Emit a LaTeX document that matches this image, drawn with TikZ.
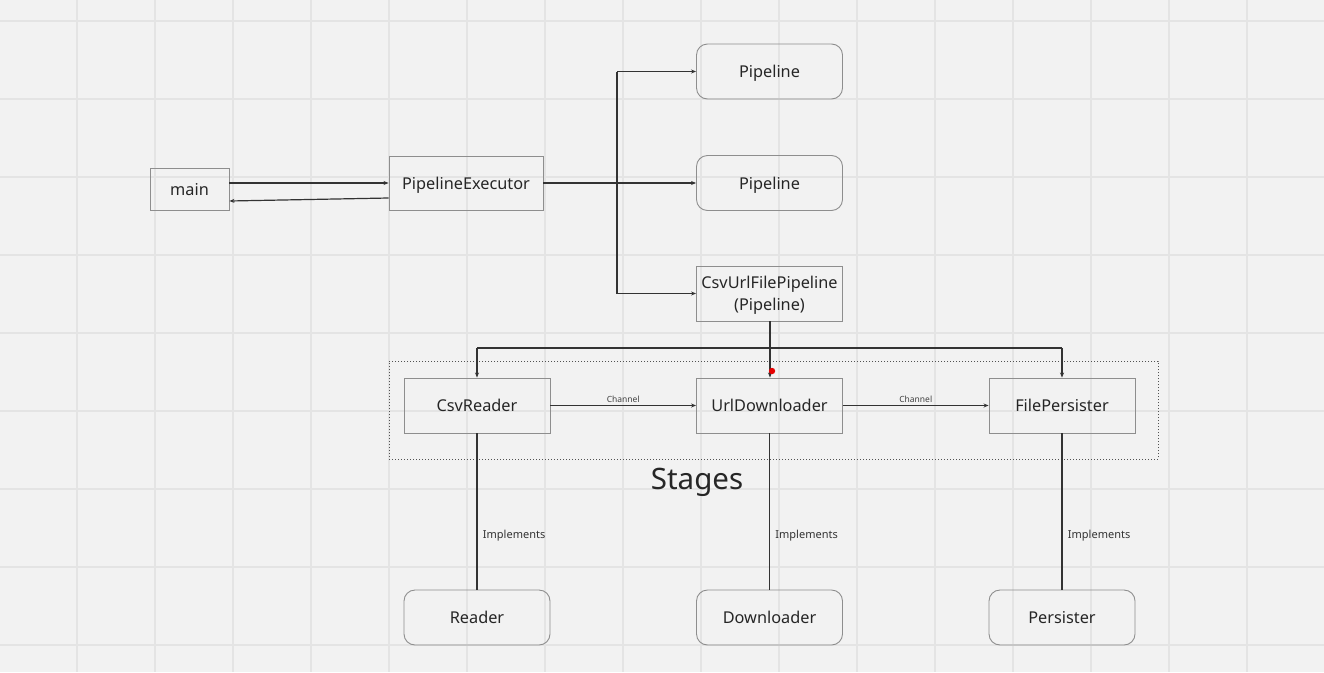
\documentclass[tikz,border=0pt]{standalone}
\usepackage{fontspec}
\setmainfont{Noto Sans}
\usetikzlibrary{arrows.meta,positioning}
\definecolor{bg}{HTML}{F2F2F2}
\definecolor{gridc}{HTML}{E4E4E4}
\definecolor{boxc}{HTML}{8E8E8E}
\definecolor{linec}{HTML}{333333}
\tikzset{
  box/.style={draw=boxc, line width=0.9pt, minimum width=146pt, minimum height=55pt, inner sep=0pt, font=\fontsize{16.3}{22.5}\selectfont, text=black!85, align=center, text depth=0pt},
  rbox/.style={box, rounded corners=11pt},
  conn/.style={draw=linec, line width=1.2pt, -{Stealth[length=5pt,width=4pt]}},
  plain/.style={draw=linec, line width=1.2pt},
  lbl/.style={font=\fontsize{11}{13}\selectfont, text=black!80},
  slbl/.style={font=\fontsize{8.5}{10}\selectfont, text=black!75}
}
\begin{document}
\begin{tikzpicture}[x=1pt,y=-1pt]
\useasboundingbox (0,0) rectangle (1324,672);
\fill[bg] (0,0) rectangle (1324,672);
\foreach \i in {0,...,17} {\draw[gridc, line width=2pt] ({-1+78*\i},0) -- ({-1+78*\i},672);}
\foreach \j in {0,...,8} {\draw[gridc, line width=2pt] (0,{21+78*\j}) -- (1324,{21+78*\j});}

\node[box, minimum width=79pt, minimum height=42pt] (main) at (189.5,189) {main};
\node[box, minimum width=154pt, minimum height=54pt] (pe) at (466,183) {PipelineExecutor};
\node[rbox] (p1) at (769.5,71.5) {Pipeline};
\node[rbox] (p2) at (769.5,183) {Pipeline};
\node[box] (cup) at (769.5,293.5) {CsvUrlFilePipeline\\(Pipeline)};
\node[draw=linec!85, dotted, line width=1pt, minimum width=769pt, minimum height=98pt, inner sep=0pt] (stages) at (773.5,410) {};
\node[box] (cr) at (477,405.5) {CsvReader};
\node[box] (ud) at (769.5,405.5) {UrlDownloader};
\node[box] (fp) at (1062,405.5) {FilePersister};
\node[font=\fontsize{29.5}{34}\selectfont, text=black!85] (stl) at (697,482) {Stages};
\node[rbox] (rd) at (477,617.5) {Reader};
\node[rbox] (dl) at (769.5,617.5) {Downloader};
\node[rbox] (ps) at (1062,617.5) {Persister};

% main <-> executor
\draw[conn] (main.east |- 0,183) -- (pe.west |- 0,183);
\draw[conn] (pe.west |- 0,198) -- (main.east |- 0,201);
% executor -> pipelines
\coordinate (jx) at (617,183);
\draw[conn] (pe.east) -- (p2.west);
\draw[conn] (jx |- p1.west) -- (p1.west);
\draw[plain] (jx |- p1.west) -- (jx |- cup.west);
\draw[conn] (jx |- cup.west) -- (cup.west);
% pipeline -> stages
\coordinate (bus) at (770,348);
\draw[conn] (cup.south -| bus) -- (ud.north -| bus);
\draw[plain] (bus -| cr.north) -- (bus -| fp.north);
\draw[conn] (bus -| cr.north) -- (cr.north);
\draw[conn] (bus -| fp.north) -- (fp.north);
\fill[red!90!black] (772,371) circle (3.2pt);
% channels
\draw[conn] (cr.east) -- node[slbl, above, pos=0.5, yshift=-1pt] {Channel} (ud.west);
\draw[conn] (ud.east) -- node[slbl, above, pos=0.5, yshift=-1pt] {Channel} (fp.west);
% implements
\draw[plain] (cr.south) -- node[lbl, right, pos=0.655, xshift=2pt] {Implements} (rd.north);
\draw[plain] (ud.south) -- node[lbl, right, pos=0.655, xshift=2pt] {Implements} (dl.north);
\draw[plain] (fp.south) -- node[lbl, right, pos=0.655, xshift=2pt] {Implements} (ps.north);
\end{tikzpicture}
\end{document}
